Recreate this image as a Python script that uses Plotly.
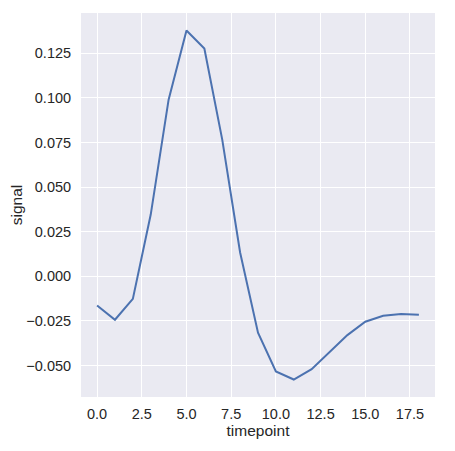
import plotly.graph_objects as go

timepoint = list(range(19))
signal = [-0.0164, -0.0244, -0.0127, 0.0346, 0.0990, 0.1378, 0.1277, 0.0766,
          0.0133, -0.0317, -0.0534, -0.0579, -0.0521, -0.0425, -0.0330,
          -0.0255, -0.0222, -0.0211, -0.0216]
x_ticks = [0.0, 2.5, 5.0, 7.5, 10.0, 12.5, 15.0, 17.5]
y_ticks = [-0.050, -0.025, 0.000, 0.025, 0.050, 0.075, 0.100, 0.125]

fig = go.Figure()
fig.add_trace(go.Scatter(x=timepoint, y=signal, mode="lines",
                         line=dict(color="#4C72B0", width=2), showlegend=False))

# page body has an 8px default margin, so the figure is sized to compensate
font = dict(family="Liberation Sans, Arial, sans-serif", color="#262626")
fig.update_layout(
    width=447, height=443,
    margin=dict(l=73, r=20, t=5, b=54),
    paper_bgcolor="white", plot_bgcolor="#EAEAF2",
    font=dict(**font, size=15),
)
fig.update_xaxes(
    range=[-0.9, 18.9], tickvals=x_ticks,
    ticktext=[f"{v:.1f}" for v in x_ticks],
    showgrid=True, gridcolor="white", gridwidth=1.3, zeroline=False,
    showline=False, ticks="outside", ticklen=4, tickcolor="rgba(0,0,0,0)",
    tickfont=dict(size=14.5), automargin=False,
    title=dict(text="timepoint", font=dict(size=15.5), standoff=3),
)
fig.update_yaxes(
    range=[-0.0677, 0.1476], tickvals=y_ticks,
    ticktext=[f"{v:.3f}".replace("-", "\u2212") for v in y_ticks],
    showgrid=True, gridcolor="white", gridwidth=1.3, zeroline=False,
    showline=False, ticks="outside", ticklen=6, tickcolor="rgba(0,0,0,0)",
    tickfont=dict(size=14.5), automargin=False,
    title=dict(text="signal", font=dict(size=15.5), standoff=9),
)
fig.write_html("out.html")
